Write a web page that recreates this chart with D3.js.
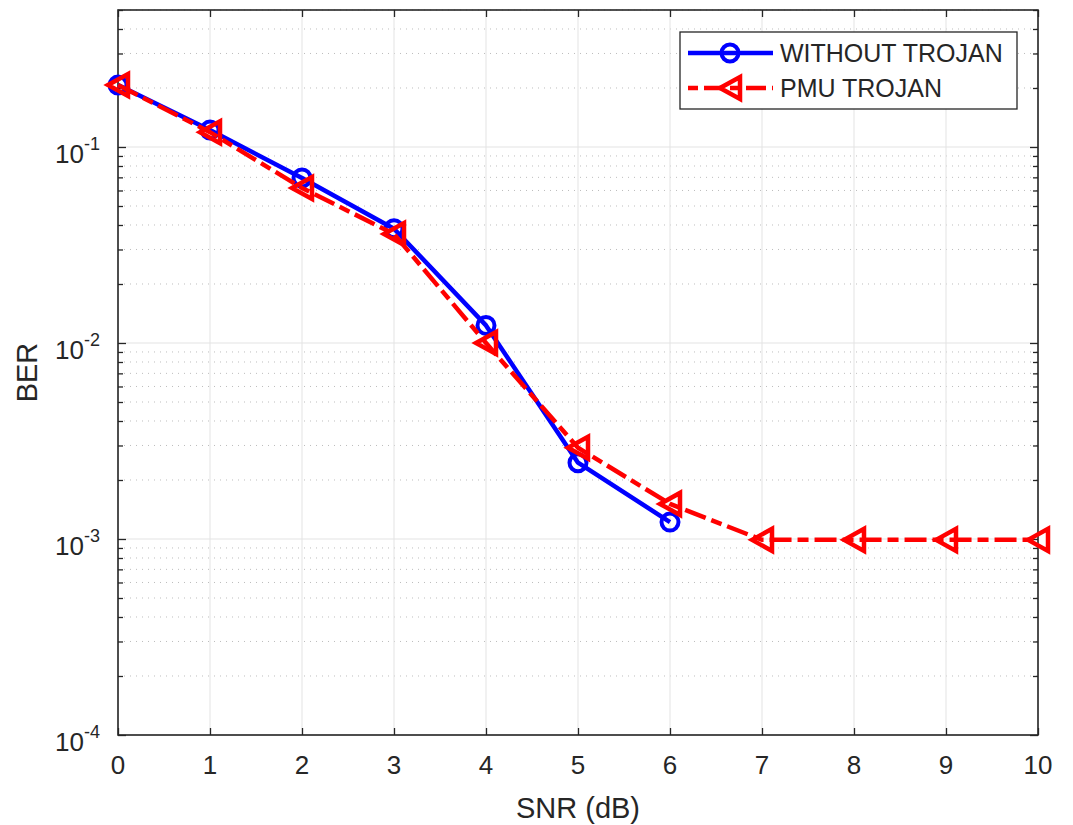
<!DOCTYPE html>
<html>
<head>
<meta charset="utf-8">
<script src="https://cdn.jsdelivr.net/npm/d3@7"></script>
<style>
  body { margin: 0; background: #fff; }
  text { font-family: "Liberation Sans", Arial, sans-serif; fill: #262626; }
</style>
</head>
<body>
<svg class="chart"></svg>
<script>
//Chart values
let snr = [0, 1, 2, 3, 4, 5, 6, 7, 8, 9, 10];
let berWithout = [0.207, 0.122, 0.0695, 0.0383, 0.0123, 0.00245, 0.00122];
let berTrojan = [0.207, 0.119, 0.0618, 0.036, 0.0100, 0.00292, 0.00151, 0.00099, 0.00099, 0.00099, 0.00099];
let xTicks = [0, 1, 2, 3, 4, 5, 6, 7, 8, 9, 10];
let yDecades = [-4, -3, -2, -1];
let seriesNames = ['WITHOUT TROJAN', 'PMU TROJAN'];

//Parameters for svg
let width = 1073;
let height = 825;
let plot = { left: 118, right: 1038, top: 10, bottom: 735 };

let svg = d3.select('svg.chart')
  .attr('width', width)
  .attr('height', height);

//Scales
let x = d3.scaleLinear().domain([0, 10]).range([plot.left, plot.right]);
let y = d3.scaleLog().domain([1e-4, 0.5]).range([plot.bottom, plot.top]);

//Minor values for log grid
let minorVals = [];
yDecades.forEach(e => {
  for (let m = 2; m <= 9; m++) {
    let v = m * Math.pow(10, e);
    if (v <= 0.5) minorVals.push(v);
  }
});

//Grid lines
let grid = svg.append('g');
grid.selectAll('.minor')
  .data(minorVals)
  .enter()
  .append('line')
    .attr('x1', plot.left).attr('x2', plot.right)
    .attr('y1', d => y(d)).attr('y2', d => y(d))
    .attr('stroke', '#bdbdbd')
    .attr('stroke-width', 1)
    .attr('stroke-dasharray', '1,5');

grid.selectAll('.vgrid')
  .data(xTicks)
  .enter()
  .append('line')
    .attr('x1', d => x(d)).attr('x2', d => x(d))
    .attr('y1', plot.top).attr('y2', plot.bottom)
    .attr('stroke', '#e3e3e3')
    .attr('stroke-width', 1);

grid.selectAll('.hgrid')
  .data(yDecades)
  .enter()
  .append('line')
    .attr('x1', plot.left).attr('x2', plot.right)
    .attr('y1', d => y(Math.pow(10, d))).attr('y2', d => y(Math.pow(10, d)))
    .attr('stroke', '#e3e3e3')
    .attr('stroke-width', 1);

//Axes with inward ticks on every side
let axisColor = '#262626';
let bottomAxis = svg.append('g')
  .attr('transform', 'translate(0,' + plot.bottom + ')')
  .call(d3.axisBottom(x).tickValues(xTicks).tickSizeInner(-7).tickSizeOuter(0).tickFormat(''));
let topAxis = svg.append('g')
  .attr('transform', 'translate(0,' + plot.top + ')')
  .call(d3.axisTop(x).tickValues(xTicks).tickSizeInner(-7).tickSizeOuter(0).tickFormat(''));

let majorVals = yDecades.map(e => Math.pow(10, e));
let leftMajor = svg.append('g')
  .attr('transform', 'translate(' + plot.left + ',0)')
  .call(d3.axisLeft(y).tickValues(majorVals).tickSizeInner(-8).tickSizeOuter(0).tickFormat(''));
let leftMinor = svg.append('g')
  .attr('transform', 'translate(' + plot.left + ',0)')
  .call(d3.axisLeft(y).tickValues(minorVals).tickSizeInner(-5).tickSizeOuter(0).tickFormat(''));
let rightMajor = svg.append('g')
  .attr('transform', 'translate(' + plot.right + ',0)')
  .call(d3.axisRight(y).tickValues(majorVals).tickSizeInner(-8).tickSizeOuter(0).tickFormat(''));
let rightMinor = svg.append('g')
  .attr('transform', 'translate(' + plot.right + ',0)')
  .call(d3.axisRight(y).tickValues(minorVals).tickSizeInner(-5).tickSizeOuter(0).tickFormat(''));

[bottomAxis, topAxis, leftMajor, leftMinor, rightMajor, rightMinor].forEach(a => {
  a.select('.domain').remove();
  a.selectAll('line').attr('stroke', axisColor).attr('stroke-width', 1.3);
});

//Axis box
svg.append('rect')
  .attr('x', plot.left)
  .attr('y', plot.top)
  .attr('width', plot.right - plot.left)
  .attr('height', plot.bottom - plot.top)
  .attr('fill', 'none')
  .attr('stroke', axisColor)
  .attr('stroke-width', 1.6);

//X tick labels
svg.selectAll('.xlab')
  .data(xTicks)
  .enter()
  .append('text')
    .attr('x', d => x(d))
    .attr('y', plot.bottom + 39)
    .attr('text-anchor', 'middle')
    .style('font-size', '26px')
    .text(d => d);

//Y tick labels as 10 with superscript
yDecades.forEach(e => {
  let ty = y(Math.pow(10, e));
  svg.append('text')
    .attr('x', 84)
    .attr('y', ty + 16)
    .attr('text-anchor', 'end')
    .style('font-size', '26px')
    .text('10');
  svg.append('text')
    .attr('x', 84)
    .attr('y', ty + 3)
    .attr('text-anchor', 'start')
    .style('font-size', '18px')
    .text('-' + Math.abs(e));
});

//Axis titles
svg.append('text')
  .attr('x', (plot.left + plot.right) / 2)
  .attr('y', 818)
  .attr('text-anchor', 'middle')
  .style('font-size', '29px')
  .text('SNR (dB)');

svg.append('text')
  .attr('transform', 'translate(37,' + (plot.top + plot.bottom) / 2 + ') rotate(-90)')
  .attr('text-anchor', 'middle')
  .style('font-size', '29px')
  .text('BER');

//Line generator
let line = d3.line()
  .x(d => x(d[0]))
  .y(d => y(d[1]));

let blueData = berWithout.map((v, i) => [snr[i], v]);
let redData = berTrojan.map((v, i) => [snr[i], v]);

//Triangle pointing left
let triPath = 'M-10,0 L10,-11 L10,11 Z';

//Blue series
svg.append('path')
  .datum(blueData)
  .attr('d', line)
  .attr('fill', 'none')
  .attr('stroke', '#0000ff')
  .attr('stroke-width', 4.5)
  .attr('stroke-linejoin', 'round');

svg.selectAll('.circ')
  .data(blueData)
  .enter()
  .append('circle')
    .attr('cx', d => x(d[0]))
    .attr('cy', d => y(d[1]))
    .attr('r', 8.5)
    .attr('fill', 'none')
    .attr('stroke', '#0000ff')
    .attr('stroke-width', 4);

//Red series
svg.append('path')
  .datum(redData)
  .attr('d', line)
  .attr('fill', 'none')
  .attr('stroke', '#ff0000')
  .attr('stroke-width', 4.5)
  .attr('stroke-dasharray', '22,6,11,6');

svg.selectAll('.tri')
  .data(redData)
  .enter()
  .append('path')
    .attr('d', triPath)
    .attr('transform', d => 'translate(' + x(d[0]) + ',' + y(d[1]) + ')')
    .attr('fill', 'none')
    .attr('stroke', '#ff0000')
    .attr('stroke-width', 4.5)
    .attr('stroke-linejoin', 'miter');

//Legend
let legend = svg.append('g');
legend.append('rect')
  .attr('x', 680)
  .attr('y', 32)
  .attr('width', 337)
  .attr('height', 77)
  .attr('fill', '#fff')
  .attr('stroke', axisColor)
  .attr('stroke-width', 1.3);

let rows = [53, 88];

legend.append('line')
  .attr('x1', 688).attr('x2', 773)
  .attr('y1', rows[0]).attr('y2', rows[0])
  .attr('stroke', '#0000ff')
  .attr('stroke-width', 4.5);
legend.append('circle')
  .attr('cx', 730).attr('cy', rows[0])
  .attr('r', 8.5)
  .attr('fill', 'none')
  .attr('stroke', '#0000ff')
  .attr('stroke-width', 4);

legend.append('line')
  .attr('x1', 688).attr('x2', 773)
  .attr('y1', rows[1]).attr('y2', rows[1])
  .attr('stroke', '#ff0000')
  .attr('stroke-width', 4.5)
  .attr('stroke-dasharray', '10,6,20,6');
legend.append('path')
  .attr('d', triPath)
  .attr('transform', 'translate(730,' + rows[1] + ')')
  .attr('fill', 'none')
  .attr('stroke', '#ff0000')
  .attr('stroke-width', 4.5);

legend.selectAll('.ltext')
  .data(seriesNames)
  .enter()
  .append('text')
    .attr('x', 780)
    .attr('y', (d, i) => rows[i] + 9)
    .style('font-size', '25px')
    .text(d => d);
</script>
</body>
</html>
